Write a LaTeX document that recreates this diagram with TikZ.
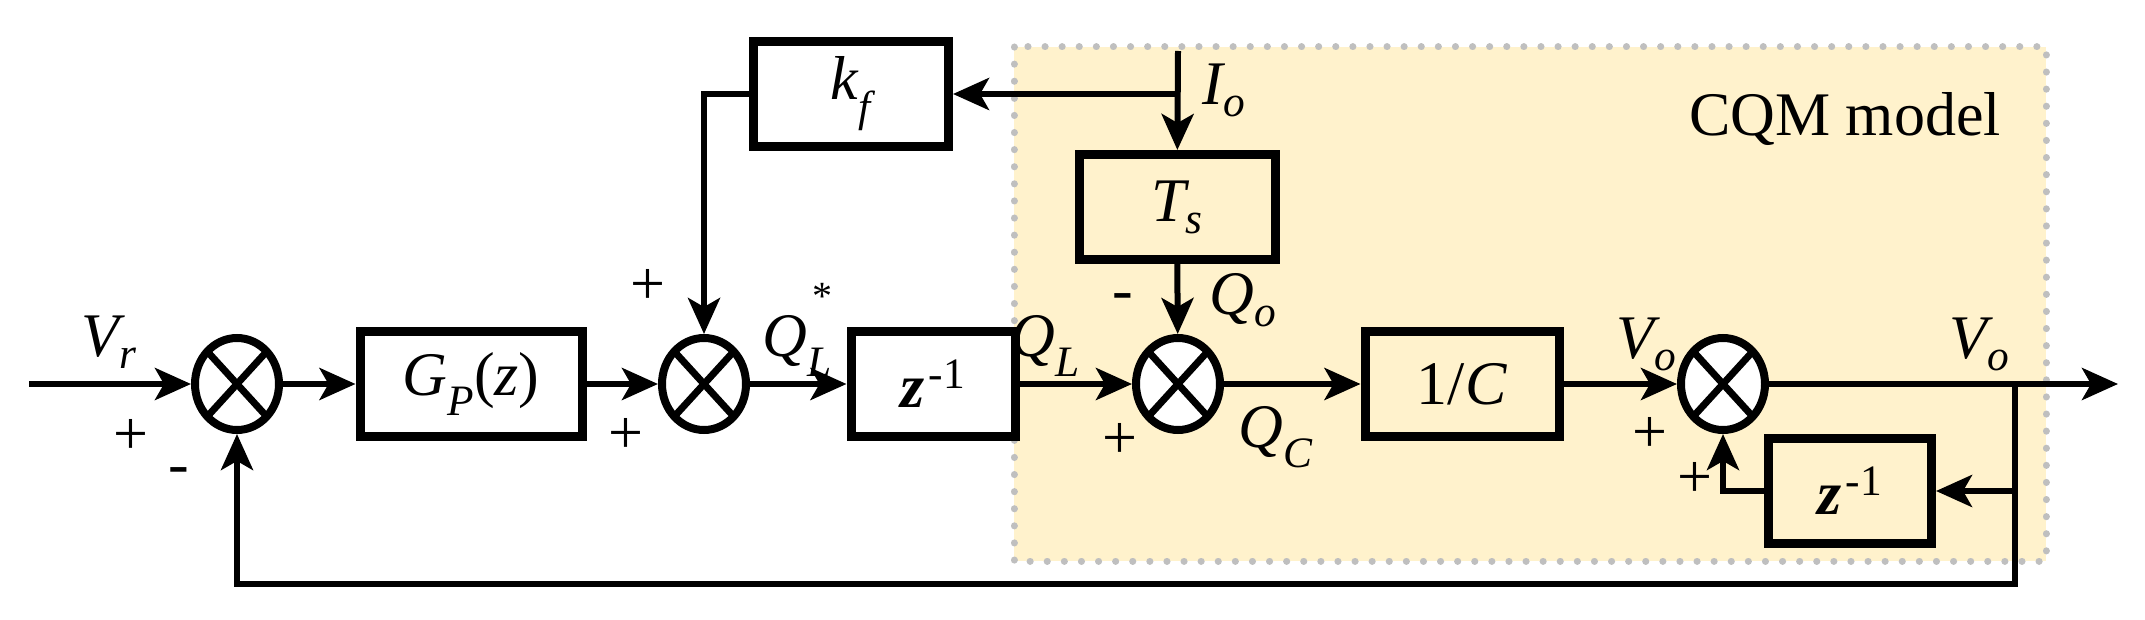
\documentclass[tikz,border=0pt]{standalone}
\usepackage{amsmath}
\usepackage{fontspec}
\setmainfont{Liberation Serif}
\usetikzlibrary{arrows.meta,shapes.geometric}
\definecolor{cqmfill}{HTML}{FFF2CC}
\definecolor{cqmdash}{HTML}{BFBFBF}
\begin{document}
\begin{tikzpicture}[x=1pt,y=-1pt,
  every node/.style={font=\fontsize{62}{70}\selectfont},
  blk/.style={draw,line width=9pt,minimum height=105pt,inner sep=0pt},
  sum/.style={draw,ellipse,line width=8pt,fill=white,minimum width=84pt,minimum height=92pt,inner sep=0pt,
    path picture={\draw[line width=7pt] (path picture bounding box.south west)--(path picture bounding box.north east)
      (path picture bounding box.north west)--(path picture bounding box.south east);}},
  con/.style={line width=6pt},
  arr/.style={con,-{Stealth[length=36pt,width=32pt,inset=9pt]}},
  lbl/.style={inner sep=0pt}]
\useasboundingbox (0,0) rectangle (2145,620);
\fill[cqmfill] (1014,47) rectangle (2046,561);
\draw[cqmdash,line width=7pt,dash pattern=on 0.1pt off 17pt,line cap=round] (1014,47) rectangle (2046,561);
\node[lbl] at (1845,119) {CQM model};
% blocks
\node[blk,minimum width=222pt] (G) at (471,384) {$\textit{G}_{\textit{P}}\textup{(}\textit{z}\textup{)}$};
\node[blk,minimum width=164pt] (z1) at (933,384) {$\textbf{\textit{z}}^{\,\textup{-1}}$};
\node[blk,minimum width=195pt] (kf) at (851,94) {$\textit{k}_{\textit{f}}$};
\node[blk,minimum width=196pt] (Ts) at (1177,207) {$\textit{T}_{\textit{s}}$};
\node[blk,minimum width=194pt] (C) at (1462,384) {1/\textit{C}};
\node[blk,minimum width=163pt] (z2) at (1850,491) {$\textbf{\textit{z}}^{\,\textup{-1}}$};
% sums
\node[sum] (s1) at (237,384) {};
\node[sum] (s2) at (704,384) {};
\node[sum] (s3) at (1178,384) {};
\node[sum] (s4) at (1723,384) {};
% coordinates
\coordinate (in) at (29,384);
\coordinate (io) at (1178,51);
\coordinate (ioj) at (1178,94);
\coordinate (kfl) at (704,94);
\coordinate (out) at (2118,384);
\coordinate (br) at (2015,384);
\coordinate (bb) at (2015,584);
\coordinate (b1) at (237,584);
\coordinate (zl) at (1723,491);
% connectors
\draw[arr] (in) -- (s1);
\draw[arr] (s1) -- (G);
\draw[arr] (G) -- (s2);
\draw[arr] (s2) -- (z1);
\draw[arr] (z1) -- (s3);
\draw[arr] (s3) -- (C);
\draw[arr] (C) -- (s4);
\draw[arr] (s4) -- (out);
\draw[arr] (ioj) -- (kf);
\draw[arr] (io) -- (Ts);
\draw[arr] (Ts) -- (s3);
\draw[arr] (kf.west) -- (kf.west -| kfl) -- (s2);
\draw[arr] (br) -- (bb) -- (b1) -- (s1);
\draw[arr] (z2.east -| br) -- (z2);
\draw[arr] (z2.west) -- (zl) -- (s4);
% labels
\node[lbl] at (109,342) {$\textit{V}_{\textit{r}}$};
\node[lbl] at (131,437) {+};
\node[lbl] at (179,476) {-};
\node[lbl] at (648,287) {+};
\node[lbl] at (626,436) {+};
\node[lbl] at (797,346) {$\textit{Q}_{\textit{L}}$};
\node[lbl,font=\fontsize{40}{44}\selectfont] at (822,296) {*};
\node[lbl] at (1045,346) {$\textit{Q}_{\textit{L}}$};
\node[lbl] at (1224,90) {$\textit{I}_{\textit{o}}$};
\node[lbl] at (1243,300) {$\textit{Q}_{\textit{o}}$};
\node[lbl] at (1123,302) {-};
\node[lbl] at (1120,441) {+};
\node[lbl] at (1276,437) {$\textit{Q}_{\textit{C}}$};
\node[lbl] at (1620,344) {$\mathit{\Delta}\,\textit{V}_{\textit{o}}$};
\node[lbl] at (1650,435) {+};
\node[lbl] at (1695,480) {+};
\node[lbl] at (1980,344) {$\textit{V}_{\textit{o}}$};
\end{tikzpicture}
\end{document}
